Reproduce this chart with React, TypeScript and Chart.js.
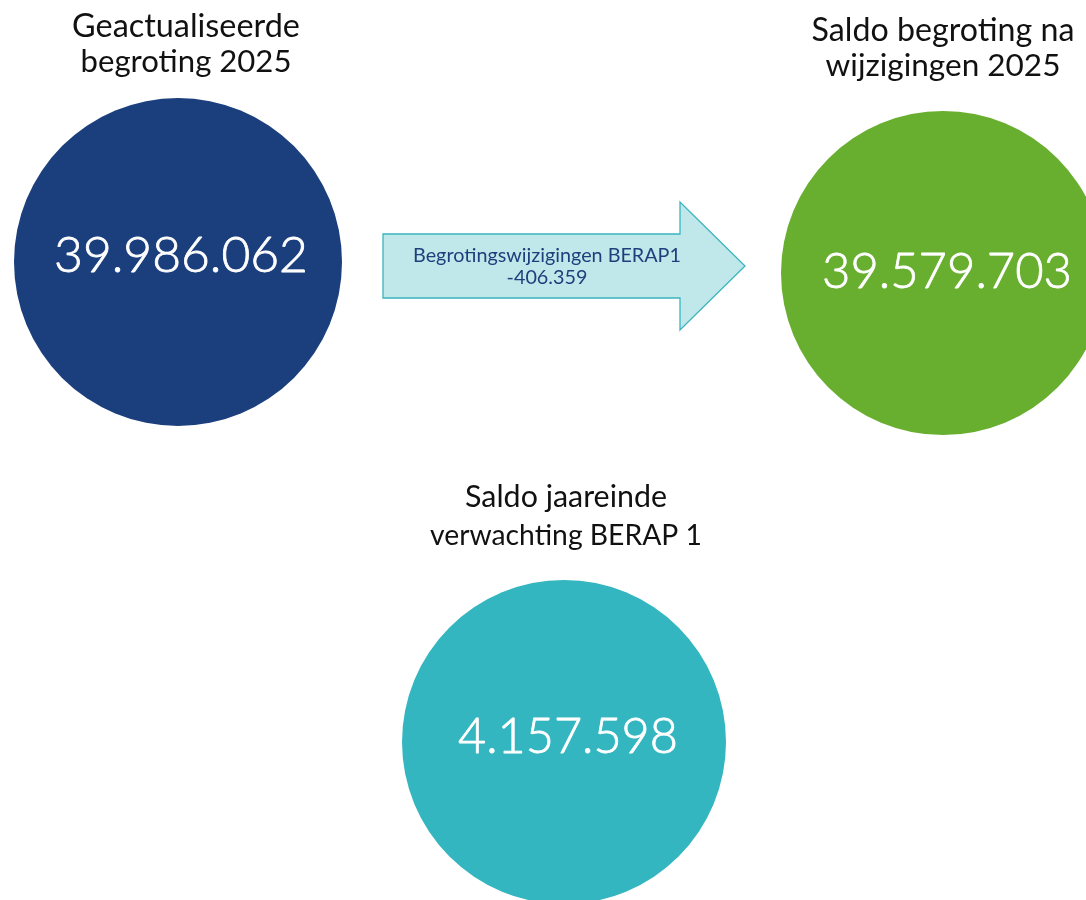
import React, { useEffect, useRef } from "react";
import { Chart, registerables, BubbleController } from "chart.js";

Chart.register(...registerables);

class PlainBubble extends (BubbleController as any) {
  getMaxOverflow() {
    return 0;
  }
}
(PlainBubble as any).id = "plainBubble";
(PlainBubble as any).defaults = (BubbleController as any).defaults;
(PlainBubble as any).overrides = (BubbleController as any).overrides;
Chart.register(PlainBubble as any);

// ---- data ----
const categories = [
  "Geactualiseerde begroting 2025",
  "Saldo begroting na wijzigingen 2025",
  "Saldo jaareinde verwachting BERAP 1",
];
const titleLines = [
  ["Geactualiseerde", "begroting 2025"],
  ["Saldo begroting na", "wijzigingen 2025"],
  ["Saldo jaareinde", "verwachting BERAP 1"],
];
const values = [39986062, 39579703, 4157598];
const changeLabel = "Begrotingswijzigingen BERAP1";
const changeValue = -406359;

// ---- style / layout ----
const colors = ["#1b3f7d", "#68ae2f", "#33b6c0"];
const centersX = [178, 943, 564];
const centersY = [262, 273, 742];
const radii = [164, 162, 162];
const titleCentersX = [186, 943, 566];
const titleBaselines = [
  [37, 72],
  [41, 76],
  [507, 545],
];
const titleWidths = [
  [228, 211],
  [263, 235],
  [202, 272],
];
const numberWidths = [254, 250, 220];
const numberOffsetX = [3, 4, 4];
const numberOffsetY = [10, 15, 11];
const FONT = "Lato, 'Open Sans', sans-serif";

const fmt = (v: number) =>
  (v < 0 ? "-" : "") +
  Math.abs(v)
    .toString()
    .replace(/\B(?=(\d{3})+(?!\d))/g, ".");

function fitSize(ctx: CanvasRenderingContext2D, text: string, target: number, weight = "normal") {
  ctx.font = `${weight} 100px ${FONT}`;
  return (100 * target) / ctx.measureText(text).width;
}

const overlay = {
  id: "overlay",
  beforeDatasetsDraw(chart: any) {
    const ctx: CanvasRenderingContext2D = chart.ctx;
    const xs = chart.scales.x;
    const ys = chart.scales.y;
    const X = (v: number) => xs.getPixelForValue(v);
    const Y = (v: number) => ys.getPixelForValue(v);
    const x0 = X(383), xb = X(680), xt = X(745);
    const yb0 = Y(234), yb1 = Y(298), yh0 = Y(202), yh1 = Y(330), ym = Y(266);
    ctx.save();
    ctx.beginPath();
    ctx.moveTo(x0, yb0);
    ctx.lineTo(xb, yb0);
    ctx.lineTo(xb, yh0);
    ctx.lineTo(xt, ym);
    ctx.lineTo(xb, yh1);
    ctx.lineTo(xb, yb1);
    ctx.lineTo(x0, yb1);
    ctx.closePath();
    ctx.fillStyle = "#c0e8ea";
    ctx.fill();
    ctx.lineWidth = 1.3;
    ctx.strokeStyle = "#3ab4be";
    ctx.stroke();

    ctx.fillStyle = "#1f3f7c";
    ctx.textAlign = "center";
    ctx.textBaseline = "alphabetic";
    const s = fitSize(ctx, changeLabel, 268);
    ctx.font = `normal ${s}px ${FONT}`;
    ctx.fillText(changeLabel, X(547), Y(262));
    ctx.fillText(fmt(changeValue), X(547), Y(284));
    ctx.restore();
  },
  afterDatasetsDraw(chart: any) {
    const ctx: CanvasRenderingContext2D = chart.ctx;
    const meta = chart.getDatasetMeta(0);
    const xs = chart.scales.x;
    const ys = chart.scales.y;
    ctx.save();
    ctx.textAlign = "center";
    ctx.textBaseline = "alphabetic";
    meta.data.forEach((el: any, i: number) => {
      const txt = fmt(values[i]);
      const ns = fitSize(ctx, txt, numberWidths[i], "300");
      ctx.fillStyle = "#ffffff";
      ctx.strokeStyle = "#ffffff";
      ctx.lineWidth = 0.8;
      ctx.lineJoin = "round";
      ctx.font = `300 ${ns}px ${FONT}`;
      const px = el.x + numberOffsetX[i];
      const py = el.y + numberOffsetY[i];
      ctx.fillText(txt, px, py);
      ctx.strokeText(txt, px, py);
    });
    ctx.fillStyle = "#111111";
    titleLines.forEach((lines, i) => {
      lines.forEach((line, j) => {
        const ts = fitSize(ctx, line, titleWidths[i][j]);
        ctx.font = `normal ${ts}px ${FONT}`;
        ctx.fillText(line, xs.getPixelForValue(titleCentersX[i]), ys.getPixelForValue(titleBaselines[i][j]));
      });
    });
    ctx.restore();
  },
};

export default function App() {
  const ref = useRef<HTMLCanvasElement | null>(null);
  useEffect(() => {
    document.body.style.margin = "0";
    const canvas = ref.current!;
    const chart = new Chart(canvas, {
      type: "plainBubble" as any,
      data: {
        labels: categories,
        datasets: [
          {
            label: "Saldo",
            data: values.map((v, i) => ({ x: centersX[i], y: centersY[i], r: radii[i], v })),
            backgroundColor: colors,
            borderWidth: 0,
            hoverRadius: 0,
            hoverBorderWidth: 0,
          } as any,
        ],
      },
      options: {
        responsive: false,
        animation: false,
        events: [],
        layout: { padding: 0 },
        plugins: { legend: { display: false }, tooltip: { enabled: false } },
        scales: {
          x: { type: "linear", min: 0, max: 1086, display: false },
          y: { type: "linear", min: 0, max: 900, reverse: true, display: false },
        },
      } as any,
      plugins: [overlay],
    });
    return () => chart.destroy();
  }, []);
  return (
    <div style={{ width: 1086, height: 900, background: "#fff" }}>
      <canvas ref={ref} width={1086} height={900} style={{ display: "block" }} />
    </div>
  );
}
